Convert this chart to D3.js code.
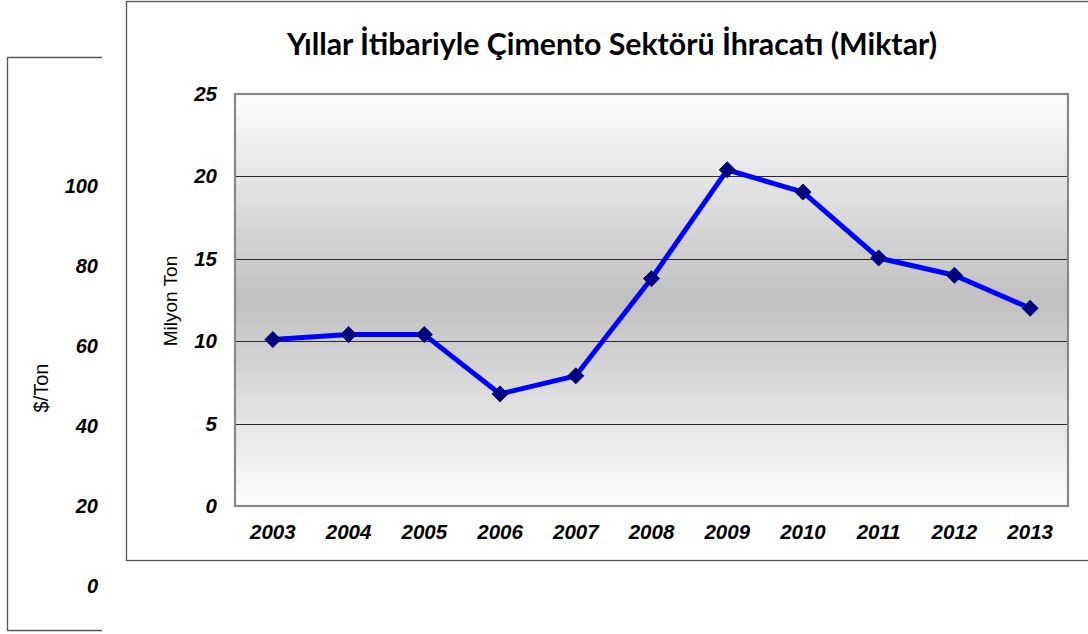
<!DOCTYPE html>
<html>
<head>
<meta charset="utf-8">
<script src="https://cdn.jsdelivr.net/npm/d3@7"></script>
<style>
  body { margin: 0; background: #fff; }
  svg { display: block; }
</style>
</head>
<body>
<script>
// Data
var years = ["2003", "2004", "2005", "2006", "2007", "2008", "2009", "2010", "2011", "2012", "2013"];
var exportTons = [10.1, 10.4, 10.4, 6.8, 7.9, 13.8, 20.4, 19.05, 15.05, 14.0, 12.0];
var yTicks = [0, 5, 10, 15, 20, 25];
var backTicks = [0, 20, 40, 60, 80, 100];

var titleText = "Yıllar İtibariyle Çimento Sektörü İhracatı (Miktar)";

var svgWidth = 1088;
var svgHeight = 634;

var svg = d3.select("body")
  .append("svg")
  .attr("width", svgWidth)
  .attr("height", svgHeight);

// Step 0: the chart sitting behind (only its left part shows)
var backY = d3.scaleLinear().domain([0, 100]).range([586, 186]);

svg.append("path")
  .attr("d", "M102,57.5 H7.5 V630.5 H102")
  .attr("fill", "none")
  .attr("stroke", "#555")
  .attr("stroke-width", 1.3);

svg.append("g")
  .selectAll("text")
  .data(backTicks)
  .enter()
  .append("text")
  .attr("x", 98)
  .attr("y", d => backY(d))
  .attr("dy", "0.35em")
  .attr("text-anchor", "end")
  .style("font-family", "'Liberation Sans', Arial, sans-serif")
  .style("font-size", "20px")
  .style("font-weight", "bold")
  .style("font-style", "italic")
  .text(d => d);

svg.append("text")
  .attr("transform", "translate(48, 388) rotate(-90)")
  .attr("text-anchor", "middle")
  .style("font-family", "'Liberation Sans', Arial, sans-serif")
  .style("font-size", "20px")
  .text("$/Ton");

// Step 1: main chart frame
svg.append("rect")
  .attr("x", 126.5)
  .attr("y", 1.5)
  .attr("width", 975)
  .attr("height", 559)
  .attr("fill", "#fff")
  .attr("stroke", "#555")
  .attr("stroke-width", 1.3);

svg.append("text")
  .attr("x", 612)
  .attr("y", 55)
  .attr("text-anchor", "middle")
  .style("font-family", "Lato, 'Open Sans', sans-serif")
  .style("font-size", "30px")
  .style("font-weight", "bold")
  .attr("textLength", 650)
  .attr("lengthAdjust", "spacingAndGlyphs")
  .text(titleText);

// Step 2: scales
var plot = {left: 235, top: 94, right: 1068, bottom: 506};

var xScale = d3.scaleBand()
  .domain(years)
  .range([plot.left, plot.right])
  .padding(0);

var yScale = d3.scaleLinear()
  .domain([0, 25])
  .range([plot.bottom, plot.top]);

// Step 3: plot background gradient
var grad = svg.append("defs")
  .append("linearGradient")
  .attr("id", "bg")
  .attr("x1", 0).attr("y1", 0)
  .attr("x2", 0).attr("y2", 1);
grad.append("stop").attr("offset", "0%").attr("stop-color", "#fefefe");
grad.append("stop").attr("offset", "50%").attr("stop-color", "#c0c0c0");
grad.append("stop").attr("offset", "100%").attr("stop-color", "#fefefe");

svg.append("rect")
  .attr("x", plot.left)
  .attr("y", plot.top)
  .attr("width", plot.right - plot.left)
  .attr("height", plot.bottom - plot.top)
  .attr("fill", "url(#bg)");

// Step 4: gridlines
svg.append("g")
  .selectAll("line")
  .data(yTicks.filter(d => d > 0 && d < 25))
  .enter()
  .append("line")
  .attr("x1", plot.left)
  .attr("x2", plot.right)
  .attr("y1", d => Math.round(yScale(d)) + 0.5)
  .attr("y2", d => Math.round(yScale(d)) + 0.5)
  .attr("stroke", "#2a2a2a")
  .attr("stroke-width", 1);

svg.append("rect")
  .attr("x", plot.left)
  .attr("y", plot.top)
  .attr("width", plot.right - plot.left)
  .attr("height", plot.bottom - plot.top)
  .attr("fill", "none")
  .attr("stroke", "#888")
  .attr("stroke-width", 2.2);

// Step 5: axes (labels only)
var leftAxis = d3.axisLeft(yScale).tickValues(yTicks).tickSize(0).tickPadding(18);
var bottomAxis = d3.axisBottom(xScale).tickSize(0).tickPadding(18);

var gy = svg.append("g")
  .attr("transform", "translate(" + plot.left + ",0)")
  .call(leftAxis);
var gx = svg.append("g")
  .attr("transform", "translate(0," + plot.bottom + ")")
  .call(bottomAxis);

[gx, gy].forEach(function(g) {
  g.select(".domain").remove();
  g.selectAll("text")
    .attr("fill", "#000")
    .style("font-family", "'Liberation Sans', Arial, sans-serif")
    .style("font-size", "20.5px")
    .style("font-weight", "bold")
    .style("font-style", "italic");
});

svg.append("text")
  .attr("transform", "translate(177, 301) rotate(-90)")
  .attr("text-anchor", "middle")
  .style("font-family", "'Liberation Sans', Arial, sans-serif")
  .style("font-size", "19px")
  .text("Milyon Ton");

// Step 6: the line and markers
var pts = years.map(function(y, i) {
  return {year: y, value: exportTons[i]};
});

var line = d3.line()
  .x(d => xScale(d.year) + xScale.bandwidth() / 2)
  .y(d => yScale(d.value));

svg.append("path")
  .datum(pts)
  .attr("d", line)
  .attr("fill", "none")
  .attr("stroke", "#0000ff")
  .attr("stroke-width", 5)
  .attr("stroke-linejoin", "round");

svg.append("g")
  .selectAll("path")
  .data(pts)
  .enter()
  .append("path")
  .attr("d", d3.symbol().type(d3.symbolSquare).size(130))
  .attr("transform", d => "translate(" + (xScale(d.year) + xScale.bandwidth() / 2) + "," + yScale(d.value) + ") rotate(45)")
  .attr("fill", "#000080")
  .attr("stroke", "#000060")
  .attr("stroke-width", 0.8);
</script>
</body>
</html>
